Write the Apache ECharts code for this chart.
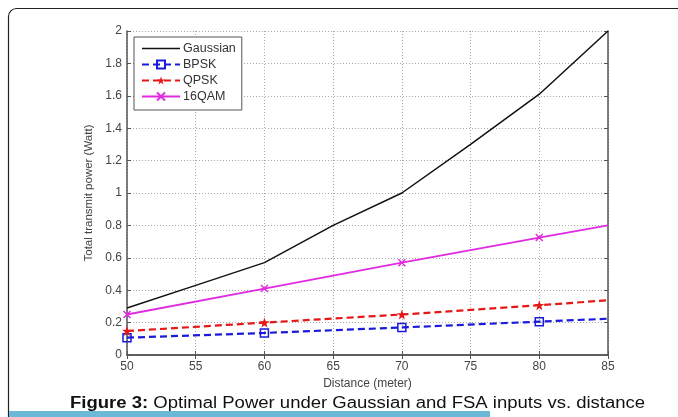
<!DOCTYPE html>
<html>
<head>
<meta charset="utf-8">
<script src="https://cdn.jsdelivr.net/npm/echarts@6/dist/echarts.min.js"></script>
<style>
  html, body { margin: 0; padding: 0; background: #fff; }
  #chart { width: 678px; height: 417px; }
</style>
</head>
<body>
<div id="chart"></div>
<script>
// distances (meter)
const distGauss = [50, 55, 60, 65, 70, 75, 80, 85];
const distFsa = [50, 60, 70, 80, 85];

// total transmit power (Watt)
const gaussian = [0.29, 0.43, 0.57, 0.80, 1.0, 1.30, 1.61, 2.0];
const bpsk = [0.107, 0.136, 0.17, 0.206, 0.224];
const qpsk = [0.148, 0.20, 0.25, 0.307, 0.338];
const qam16 = [0.25, 0.41, 0.57, 0.725, 0.80];

const caption = 'Optimal Power under Gaussian and FSA inputs vs. distance';

const AXIS_COLOR = '#555';
const LABEL_COLOR = '#444';
const FONT = 'Liberation Sans, Arial, sans-serif';

// markers only at the measured points, not at the right edge
const pairs = (xs, ys) => xs.map((x, i) => (
    x === 85 ? { value: [x, ys[i]], symbol: 'none' } : [x, ys[i]]
));

const chart = echarts.init(document.getElementById('chart'));

const gridLine = { show: true, lineStyle: { type: [1, 2], color: '#aaa', width: 1 } };

chart.setOption({
    animation: false,
    textStyle: { fontFamily: FONT },
    grid: { left: 127, right: 70, top: 31, bottom: 62 },
    legend: {
        orient: 'vertical',
        left: 134,
        top: 37,
        itemWidth: 38,
        itemHeight: 10,
        itemGap: 3,
        padding: [5, 6, 7, 7],
        backgroundColor: '#fff',
        borderColor: '#555',
        borderWidth: 1,
        textStyle: { fontSize: 12.5, color: '#333', fontFamily: FONT, padding: [0, 0, 0, -2] },
        data: [
            { name: 'Gaussian', icon: 'path://M0,0 L38,0 L38,1.6 L0,1.6 Z' },
            'BPSK', 'QPSK', '16QAM'
        ]
    },
    xAxis: [{
        type: 'value',
        min: 50, max: 85, interval: 5,
        name: 'Distance (meter)',
        nameLocation: 'middle',
        nameGap: 20,
        nameTextStyle: { fontSize: 12, color: LABEL_COLOR },
        axisLine: { onZero: false, lineStyle: { color: AXIS_COLOR, width: 1.5 } },
        axisTick: { inside: true, length: 4, lineStyle: { color: AXIS_COLOR } },
        axisLabel: { fontSize: 12, color: LABEL_COLOR, margin: 6 },
        splitLine: gridLine
    }, {
        type: 'value', position: 'top',
        min: 50, max: 85, interval: 5,
        axisLine: { show: true, lineStyle: { color: AXIS_COLOR, width: 1.5 } },
        axisTick: { inside: true, length: 4, lineStyle: { color: AXIS_COLOR } },
        axisLabel: { show: false },
        splitLine: { show: false }
    }],
    yAxis: [{
        type: 'value',
        min: 0, max: 2, interval: 0.2,
        name: 'Total transmit power (Watt)',
        nameLocation: 'middle',
        nameGap: 31,
        nameTextStyle: { fontSize: 11.5, color: LABEL_COLOR },
        axisLine: { show: true, onZero: false, lineStyle: { color: AXIS_COLOR, width: 1.5 } },
        axisTick: { show: true, inside: true, length: 4, lineStyle: { color: AXIS_COLOR } },
        axisLabel: {
            fontSize: 12, color: LABEL_COLOR, margin: 5,
            formatter: v => String(+v.toFixed(1))
        },
        splitLine: gridLine
    }, {
        type: 'value', position: 'right',
        min: 0, max: 2, interval: 0.2,
        axisLine: { show: true, lineStyle: { color: AXIS_COLOR, width: 1.5 } },
        axisTick: { show: true, inside: true, length: 4, lineStyle: { color: AXIS_COLOR } },
        axisLabel: { show: false },
        splitLine: { show: false }
    }],
    series: [{
        name: 'Gaussian',
        type: 'line',
        data: distGauss.map((x, i) => [x, gaussian[i]]),
        symbol: 'none',
        color: '#111',
        lineStyle: { width: 1.5, color: '#111' }
    }, {
        name: 'BPSK',
        type: 'line',
        data: pairs(distFsa, bpsk),
        symbol: 'rect',
        symbolSize: 8,
        color: '#1a1adb',
        itemStyle: { color: 'transparent', borderColor: '#1a1adb', borderWidth: 1.5 },
        lineStyle: { width: 2.2, type: [7, 4], color: '#1a1adb' }
    }, {
        name: 'QPSK',
        type: 'line',
        data: pairs(distFsa, qpsk),
        symbol: 'path://M0,-10 L2.5,-3 L10,-3 L4,1.5 L6,9 L0,4.5 L-6,9 L-4,1.5 L-10,-3 L-2.5,-3 Z',
        symbolSize: 10,
        color: '#e61717',
        itemStyle: { color: '#e61717' },
        lineStyle: { width: 2.2, type: [7, 4], color: '#e61717' }
    }, {
        name: '16QAM',
        type: 'line',
        data: pairs(distFsa, qam16),
        symbol: 'path://M-5,-5 L5,5 M5,-5 L-5,5',
        symbolSize: 7,
        color: '#e02be0',
        itemStyle: { color: 'transparent', borderColor: '#e02be0', borderWidth: 1.5 },
        lineStyle: { width: 1.8, color: '#e02be0' }
    }],
    graphic: [{
        type: 'rect',
        shape: { x: 8.5, y: 8.5, width: 720, height: 460, r: 8 },
        style: { fill: 'none', stroke: '#222', lineWidth: 1.2 },
        silent: true
    }, {
        type: 'rect',
        shape: { x: 9, y: 411, width: 481, height: 6 },
        style: { fill: '#6bb8d9' },
        silent: true
    }, {
        type: 'text',
        x: 70,
        y: 396,
        scaleX: 1.157,
        style: {
            rich: {
                b: { fontWeight: 'bold', fontSize: 16, fill: '#111', fontFamily: FONT },
                n: { fontSize: 16, fill: '#111', fontFamily: FONT }
            },
            text: '{b|Figure 3:}{n| ' + caption + '}'
        }
    }]
});
</script>
</body>
</html>
